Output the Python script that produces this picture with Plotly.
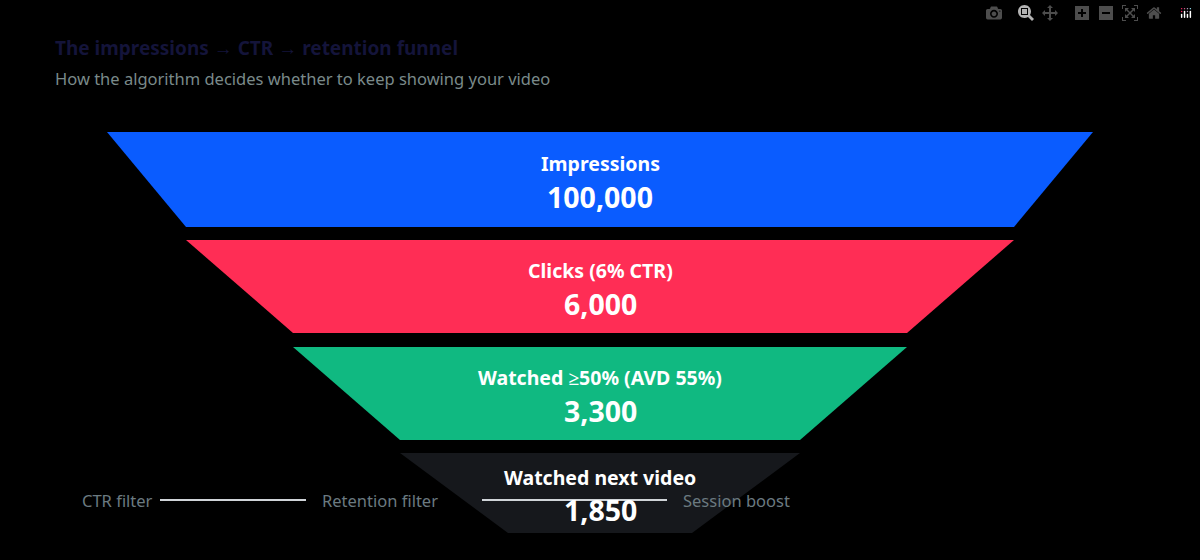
import plotly.graph_objects as go

stages = ["Impressions", "Clicks (6% CTR)", "Watched ≥50% (AVD 55%)", "Watched next video"]
values = [100000, 6000, 3300, 1850]
colors = ["#0a5cff", "#ff2d55", "#10b981", "#16181c"]

filters = ["CTR filter", "Retention filter", "Session boost"]

# funnel geometry (pixel space): top half-width, bottom half-width, top y, bottom y
half_top = [493, 414, 307, 200]
half_bot = [414, 307, 200, 92]
y_top = [132, 240, 347, 453]
y_bot = [227, 333, 440, 533]
cx = 600

fig = go.Figure()
for i, name in enumerate(stages):
    xs = [cx - half_top[i], cx + half_top[i], cx + half_bot[i], cx - half_bot[i], cx - half_top[i]]
    ys = [y_top[i], y_top[i], y_bot[i], y_bot[i], y_top[i]]
    fig.add_trace(go.Scatter(x=xs, y=ys, fill="toself", fillcolor=colors[i], mode="lines",
                             line=dict(width=0), hoverinfo="skip", showlegend=False))
    ym = (y_top[i] + y_bot[i]) / 2
    fig.add_annotation(x=cx, y=ym - 16, text=f"<b>{name}</b>", showarrow=False,
                       font=dict(size=19.5, color="white"))
    fig.add_annotation(x=cx, y=ym + 17, text=f"<b>{values[i]:,}</b>", showarrow=False,
                       font=dict(size=28.5, color="white"))

# filter strip
filter_x = [117, 380, 736]
line_segs = [(160, 306), (482, 667)]
for x, t in zip(filter_x, filters):
    fig.add_annotation(x=x, y=500, text=t, showarrow=False, font=dict(size=16.5, color="#6b7a80"))
for x0, x1 in line_segs:
    fig.add_shape(type="line", x0=x0, x1=x1, y0=500, y1=500, line=dict(color="#d0d4d8", width=2))

fig.add_annotation(x=53, y=48, xanchor="left", text="<b>The impressions → CTR → retention funnel</b>",
                   showarrow=False, font=dict(size=19, color="#14143a"))
fig.add_annotation(x=53, y=78, xanchor="left", text="How the algorithm decides whether to keep showing your video",
                   showarrow=False, font=dict(size=16.5, color="#7a8a8a"))

fig.update_xaxes(range=[0, 1200], visible=False)
fig.update_yaxes(range=[560, 0], visible=False)
fig.update_layout(width=1200, height=560, margin=dict(l=0, r=0, t=0, b=0),
                  paper_bgcolor="black", plot_bgcolor="black",
                  font=dict(family="Noto Sans"))
fig.write_html("out.html", post_script="document.body.style.margin='0';document.body.style.background='black';")
